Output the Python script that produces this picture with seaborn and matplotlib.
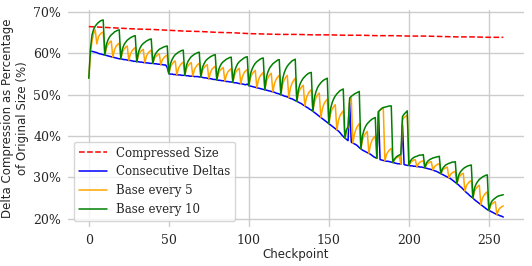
import numpy as np
import matplotlib
matplotlib.use("Agg")
import matplotlib.pyplot as plt
import seaborn as sns
from matplotlib.ticker import PercentFormatter

# compressed size (read every 10 checkpoints)
compressed_ckpt = [0, 10, 20, 30, 40, 50, 60, 70, 80, 90, 100, 110, 120, 130,
                   140, 150, 160, 170, 180, 190, 200, 210, 220, 230, 240, 250, 259]
compressed_size = [66.5, 66.3, 66.1, 65.9, 65.8, 65.6, 65.4, 65.3, 65.1, 65.0, 64.8, 64.7, 64.6, 64.6,
                   64.5, 64.5, 64.4, 64.4, 64.3, 64.3, 64.2, 64.2, 64.1, 64.0, 64.0, 63.9, 63.9]

consecutive = [
    np.nan, 60.5, 60.5, 60.4, 60.3, 60.2, 60.0, 59.9, 59.8, 59.7,
    59.6, 59.5, 59.4, 59.3, 59.2, 59.1, 59.0, 58.9, 58.8, 58.7,
    58.7, 58.6, 58.5, 58.5, 58.4, 58.3, 58.3, 58.2, 58.1, 58.1,
    58.0, 58.0, 57.9, 57.9, 57.8, 57.8, 57.7, 57.7, 57.6, 57.6,
    57.6, 57.5, 57.5, 57.4, 57.4, 57.3, 57.3, 57.2, 57.2, 56.6,
    55.1, 55.0, 55.0, 54.9, 54.9, 54.8, 54.8, 54.8, 54.7, 54.7,
    54.7, 54.6, 54.6, 54.5, 54.5, 54.5, 54.4, 54.4, 54.4, 54.3,
    54.3, 54.2, 54.1, 54.1, 54.0, 53.9, 53.9, 53.8, 53.7, 53.7,
    53.6, 53.5, 53.5, 53.4, 53.4, 53.3, 53.2, 53.2, 53.1, 53.1,
    53.0, 52.9, 52.9, 52.8, 52.7, 52.7, 52.6, 52.5, 52.4, 52.6,
    52.2, 52.1, 52.0, 51.9, 51.8, 51.7, 51.6, 51.5, 51.4, 51.3,
    51.2, 51.1, 51.0, 50.9, 50.8, 50.7, 50.6, 50.4, 50.3, 50.2,
    50.0, 49.9, 49.7, 49.6, 49.5, 49.3, 49.1, 49.0, 48.8, 48.6,
    48.4, 48.2, 48.0, 47.8, 47.5, 47.3, 47.0, 46.8, 46.5, 46.3,
    46.0, 45.7, 45.4, 45.1, 44.8, 44.5, 44.2, 43.9, 43.6, 43.3,
    43.0, 42.7, 42.4, 42.1, 41.8, 41.5, 41.2, 40.8, 40.3, 39.9,
    39.5, 39.2, 38.9, 48.0, 38.5, 38.3, 38.1, 37.9, 37.6, 37.2,
    36.9, 36.6, 36.4, 36.2, 36.0, 35.8, 35.6, 35.3, 35.0, 34.8,
    34.6, 45.9, 34.3, 34.2, 34.1, 34.0, 33.9, 33.9, 33.8, 33.7,
    33.6, 33.5, 33.4, 33.3, 33.3, 33.2, 42.7, 33.1, 33.0, 32.9,
    32.9, 32.8, 32.8, 32.7, 32.7, 32.6, 32.6, 32.5, 32.5, 32.4,
    32.3, 32.2, 32.1, 32.0, 31.9, 31.8, 31.6, 31.5, 31.3, 31.1,
    30.9, 30.7, 30.5, 30.3, 30.1, 29.9, 29.7, 29.4, 29.1, 28.8,
    28.5, 28.2, 27.8, 27.5, 27.1, 26.7, 26.3, 26.0, 25.6, 25.3,
    25.0, 24.6, 24.3, 24.0, 23.7, 23.4, 23.1, 22.8, 22.5, 22.2,
    22.0, 21.8, 21.6, 21.4, 21.2, 21.0, 20.9, 20.7, 20.6, 20.4,
]

base_every_5 = [
    54.0, 60.0, 63.0, 64.8, 65.7, 62.3, 64.0, 64.6, 65.0, 65.2,
    59.6, 61.3, 62.2, 62.7, 63.0, 59.1, 60.8, 61.7, 62.2, 62.5,
    58.7, 60.3, 61.0, 61.5, 61.8, 58.3, 59.9, 60.6, 61.1, 61.4,
    58.0, 59.5, 60.3, 60.7, 61.0, 57.8, 59.3, 60.1, 60.5, 60.8,
    57.6, 58.8, 59.3, 59.7, 59.9, 57.3, 58.5, 59.0, 59.4, 59.6,
    55.1, 56.7, 57.4, 57.9, 58.2, 54.8, 56.4, 57.1, 57.6, 57.9,
    54.7, 56.3, 57.0, 57.5, 57.8, 54.5, 56.1, 56.8, 57.3, 57.6,
    54.3, 55.8, 56.6, 57.0, 57.3, 53.9, 55.4, 56.2, 56.6, 56.9,
    53.6, 55.1, 55.9, 56.3, 56.6, 53.3, 54.8, 55.6, 56.0, 56.3,
    53.0, 54.7, 55.6, 56.1, 56.4, 52.7, 54.4, 55.3, 55.8, 56.1,
    52.2, 54.1, 55.0, 55.5, 55.9, 51.7, 53.6, 54.5, 55.0, 55.4,
    51.2, 53.2, 54.2, 54.8, 55.2, 50.7, 52.7, 53.7, 54.3, 54.7,
    50.0, 52.4, 53.5, 54.2, 54.7, 49.3, 51.7, 52.8, 53.5, 54.0,
    48.4, 50.4, 51.3, 51.9, 52.3, 47.3, 49.3, 50.2, 50.8, 51.2,
    46.0, 48.2, 49.3, 50.0, 50.4, 44.5, 46.7, 47.8, 48.5, 48.9,
    43.0, 45.3, 46.5, 47.1, 47.6, 41.5, 43.8, 45.0, 45.6, 46.1,
    39.5, 41.3, 42.1, 48.8, 49.2, 38.3, 40.5, 41.7, 42.5, 43.0,
    36.9, 39.0, 40.1, 40.7, 41.1, 35.8, 37.9, 39.0, 39.6, 40.0,
    34.6, 45.9, 46.3, 46.6, 46.8, 34.0, 35.5, 36.2, 36.7, 37.0,
    33.6, 34.3, 34.7, 34.9, 35.1, 33.2, 43.9, 44.5, 44.8, 45.0,
    32.9, 33.6, 33.9, 34.2, 34.3, 32.6, 33.3, 33.7, 33.9, 34.0,
    32.3, 33.1, 33.4, 33.7, 33.8, 31.8, 32.6, 32.9, 33.2, 33.3,
    30.9, 31.7, 32.1, 32.3, 32.5, 29.9, 30.7, 31.1, 31.3, 31.5,
    28.5, 29.8, 30.4, 30.8, 31.0, 26.7, 28.0, 28.6, 29.0, 29.2,
    25.0, 26.6, 27.3, 27.8, 28.1, 23.4, 25.0, 25.7, 26.2, 26.5,
    22.0, 23.1, 23.6, 23.9, 24.1, 21.0, 22.1, 22.6, 22.9, 23.1,
]

base_every_10 = [
    54.0, 61.0, 64.5, 65.8, 66.6, 67.1, 67.5, 67.8, 68.0, 68.1,
    59.6, 62.2, 63.3, 64.0, 64.5, 64.8, 65.2, 65.4, 65.6, 65.7,
    58.7, 61.1, 62.1, 62.7, 63.2, 63.5, 63.8, 64.0, 64.2, 64.3,
    58.0, 60.3, 61.3, 62.0, 62.4, 62.7, 63.0, 63.2, 63.4, 63.5,
    57.6, 59.4, 60.1, 60.6, 61.0, 61.2, 61.4, 61.6, 61.7, 61.8,
    55.1, 57.5, 58.5, 59.2, 59.7, 60.0, 60.3, 60.5, 60.7, 60.8,
    54.7, 57.1, 58.1, 58.7, 59.2, 59.5, 59.8, 60.0, 60.2, 60.3,
    54.3, 56.6, 57.5, 58.2, 58.6, 58.9, 59.2, 59.4, 59.6, 59.7,
    53.6, 55.9, 56.9, 57.6, 58.0, 58.3, 58.6, 58.8, 59.0, 59.1,
    53.0, 55.6, 56.7, 57.5, 58.0, 58.3, 58.6, 58.9, 59.1, 59.2,
    52.2, 55.0, 56.2, 57.0, 57.6, 58.0, 58.3, 58.6, 58.8, 58.9,
    51.2, 54.3, 55.6, 56.5, 57.0, 57.5, 57.8, 58.1, 58.4, 58.5,
    50.0, 53.6, 55.2, 56.2, 56.9, 57.4, 57.8, 58.2, 58.4, 58.6,
    48.4, 51.3, 52.6, 53.4, 54.0, 54.4, 54.8, 55.1, 55.3, 55.4,
    46.0, 49.4, 50.8, 51.8, 52.4, 52.9, 53.3, 53.6, 53.8, 54.0,
    43.0, 46.5, 48.0, 49.0, 49.7, 50.2, 50.6, 51.0, 51.2, 51.4,
    39.5, 41.5, 42.3, 49.2, 49.6, 49.9, 50.2, 50.4, 50.6, 50.8,
    36.9, 40.1, 41.5, 42.4, 43.0, 43.4, 43.8, 44.1, 44.3, 44.5,
    34.6, 45.9, 46.3, 46.7, 46.9, 47.0, 47.1, 47.2, 47.3, 47.3,
    33.6, 34.4, 34.9, 35.2, 35.4, 35.6, 44.7, 45.3, 45.7, 46.1,
    32.9, 34.0, 34.5, 34.8, 35.0, 35.1, 35.3, 35.4, 35.4, 35.5,
    32.3, 33.5, 34.0, 34.3, 34.5, 34.7, 34.8, 34.9, 35.0, 35.1,
    30.9, 32.1, 32.6, 33.0, 33.2, 33.4, 33.5, 33.7, 33.7, 33.8,
    28.5, 30.4, 31.2, 31.7, 32.1, 32.4, 32.6, 32.8, 32.9, 33.0,
    25.0, 27.4, 28.4, 29.0, 29.5, 29.8, 30.1, 30.3, 30.5, 30.6,
    22.0, 23.6, 24.3, 24.7, 25.0, 25.3, 25.5, 25.6, 25.7, 25.8,
]

checkpoints = np.arange(len(base_every_10))

sns.set_theme(style="whitegrid")
fig, ax = plt.subplots(figsize=(5.32, 2.66), dpi=100)
fig.subplots_adjust(left=0.128, right=0.985, top=0.962, bottom=0.147)

lw = 1.1
sns.lineplot(x=compressed_ckpt, y=compressed_size, color="red", linestyle="--", lw=lw,
             label="Compressed Size", ax=ax)
sns.lineplot(x=checkpoints, y=consecutive, color="blue", lw=lw, label="Consecutive Deltas", ax=ax)
sns.lineplot(x=checkpoints, y=base_every_5, color="orange", lw=lw, label="Base every 5", ax=ax)
sns.lineplot(x=checkpoints, y=base_every_10, color="green", lw=lw, label="Base every 10", ax=ax)

ax.set_xticks([0, 50, 100, 150, 200, 250])
ax.set_yticks([20, 30, 40, 50, 60, 70])
ax.yaxis.set_major_formatter(PercentFormatter(decimals=0))
ax.tick_params(axis="both", length=3, width=0.8, color="#333333", labelsize=9, pad=2)
for lab in ax.get_xticklabels() + ax.get_yticklabels():
    lab.set_family("DejaVu Serif")

ax.set_xlabel("Checkpoint", fontsize=8.5, labelpad=1)
ax.set_ylabel("Delta Compression as Percentage\nof Original Size (%)", fontsize=8.5, labelpad=3)
sns.despine(ax=ax, left=True, bottom=True)

ax.legend(loc="lower left", prop={"family": "DejaVu Serif", "size": 8.5}, handlelength=2.4)

plt.savefig("out.png", dpi=100)
